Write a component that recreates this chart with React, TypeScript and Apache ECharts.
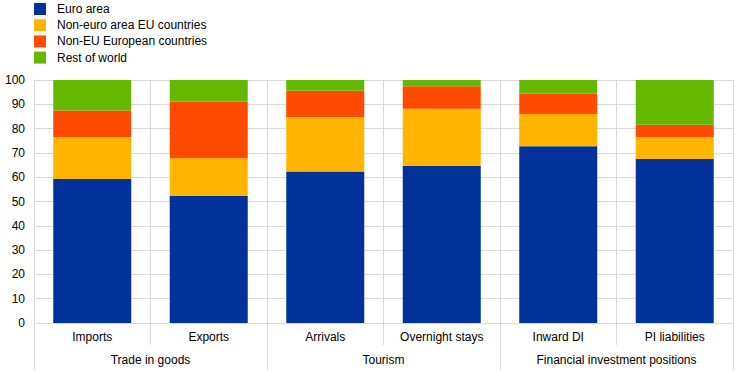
import React, { useEffect, useRef } from "react";
import * as echarts from "echarts";

const categories = ["Imports", "Exports", "Arrivals", "Overnight stays", "Inward DI", "PI liabilities"];
const groups = ["Trade in goods", "Tourism", "Financial investment positions"];
const seriesNames = ["Euro area", "Non-euro area EU countries", "Non-EU European countries", "Rest of world"];
const euroArea = [59.3, 52.4, 62.3, 64.7, 72.7, 67.5];
const nonEuroEU = [17.1, 15.4, 22.5, 23.5, 13.3, 9.0];
const nonEUEurope = [11.1, 23.2, 10.8, 9.2, 8.4, 5.1];
const restOfWorld = [12.5, 9.0, 4.4, 2.6, 5.6, 18.4];
const yTicks = { min: 0, max: 100, interval: 10 };
const colors = ["#003299", "#FFB400", "#FF4B00", "#65B800"];

const FONT = "'Liberation Sans', Arial, sans-serif";
const GRID = "#d9d9d9";

export default function App() {
  const ref = useRef<HTMLDivElement>(null);
  useEffect(() => {
    if (!ref.current) return;
    const chart = echarts.init(ref.current, undefined, { renderer: "svg" });
    const data = [euroArea, nonEuroEU, nonEUEurope, restOfWorld];
    chart.setOption({
      animation: false,
      textStyle: { fontFamily: FONT },
      legend: {
        orient: "vertical",
        left: 29,
        top: -2,
        itemWidth: 12,
        itemHeight: 12,
        itemGap: 4.2,
        icon: "rect",
        textStyle: { fontSize: 12, color: "#000", fontFamily: FONT, padding: [0, 0, 0, 6] },
        data: seriesNames,
      },
      grid: { left: 34, right: 11, top: 80, bottom: 49, containLabel: false },
      xAxis: [
        {
          type: "category",
          data: categories,
          position: "bottom",
          axisLine: { show: true, lineStyle: { color: GRID } },
          axisTick: { show: true, interval: 0, length: 22, lineStyle: { color: GRID } },
          axisLabel: { interval: 0, margin: 8, fontSize: 12, color: "#000", fontFamily: FONT },
          splitLine: { show: true, interval: 0, lineStyle: { color: GRID } },
        },
        {
          type: "category",
          data: groups,
          position: "bottom",
          axisLine: { show: false },
          axisTick: { show: true, interval: 0, length: 47, lineStyle: { color: GRID } },
          axisLabel: { interval: 0, margin: 31, fontSize: 12, color: "#000", fontFamily: FONT },
          splitLine: { show: false },
        },
      ],
      yAxis: {
        type: "value",
        min: yTicks.min,
        max: yTicks.max,
        interval: yTicks.interval,
        axisLine: { show: true, lineStyle: { color: GRID } },
        axisTick: { show: false },
        axisLabel: { fontSize: 12, color: "#000", margin: 9, fontFamily: FONT },
        splitLine: { show: true, lineStyle: { color: GRID } },
      },
      series: seriesNames.map((name, i) => ({
        name,
        type: "bar",
        stack: "total",
        xAxisIndex: 0,
        barWidth: 78,
        itemStyle: { color: colors[i] },
        data: data[i],
      })),
    });
    return () => chart.dispose();
  }, []);
  return <div ref={ref} style={{ width: 744, height: 372, position: "absolute", left: 0, top: 0 }} />;
}
